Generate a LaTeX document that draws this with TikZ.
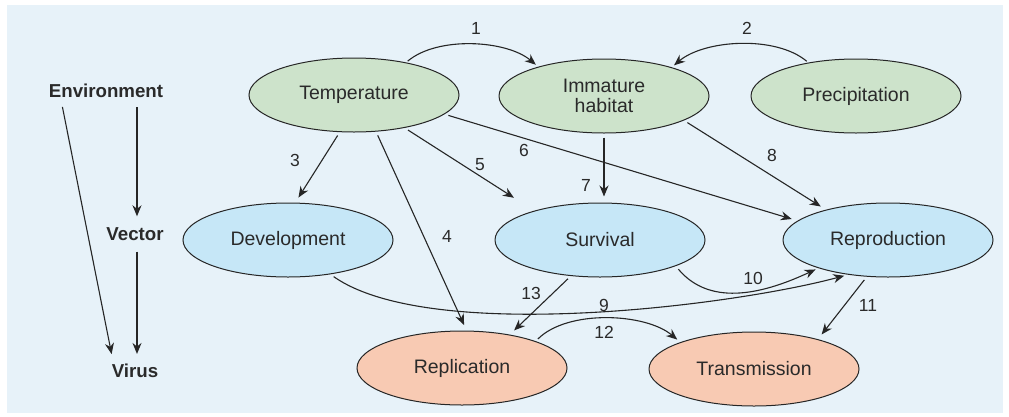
\documentclass[tikz,border=0pt]{standalone}
\usepackage{fontspec}
\setmainfont{Liberation Sans}
\usetikzlibrary{shapes.geometric,arrows.meta,calc}
\definecolor{bgc}{HTML}{E7F2F9}
\definecolor{greenc}{HTML}{CDE3CB}
\definecolor{bluec}{HTML}{C6E7F7}
\definecolor{salc}{HTML}{F8CAB3}
\definecolor{linec}{HTML}{262626}
\definecolor{textc}{HTML}{2A2A2A}
\begin{document}
\begin{tikzpicture}[x=1pt,y=1pt,
  ell/.style={ellipse, draw=linec, line width=1pt, minimum width=210pt, minimum height=74pt, inner sep=0pt,
    font=\fontsize{19.5}{20}\selectfont, text=textc, align=center},
  lbl/.style={inner sep=0pt, font=\fontsize{18.7}{20}\selectfont\bfseries, text=textc},
  num/.style={inner sep=0pt, font=\fontsize{17.5}{20}\selectfont, text=textc},
  arr/.style={-{Stealth[length=11pt,width=9pt]}, line width=1.1pt, draw=linec, shorten >=6pt, shorten <=4pt},
  carr/.style={-{Stealth[length=11pt,width=9pt]}, line width=1.1pt, draw=linec, shorten >=3pt, shorten <=2pt}]
\useasboundingbox (0,0) rectangle (1009,-416);
\fill[bgc] (7,-5) rectangle (1003,-413);

% ellipses
\node[ell,fill=greenc] (temp) at (354,-95) {Temperature};
\node[ell,fill=greenc] (imm) at (604,-96) {Immature\\habitat};
\node[ell,fill=greenc] (prec) at (856,-96) {Precipitation};
\node[ell,fill=bluec] (dev) at (288,-240) {Development};
\node[ell,fill=bluec] (surv) at (600,-240) {Survival};
\node[ell,fill=bluec] (repr) at (888,-240) {Reproduction};
\node[ell,fill=salc] (repl) at (462,-368) {Replication};
\node[ell,fill=salc] (trans) at (754,-369) {Transmission};

% left labels
\node[lbl] (env) at (106,-91) {Environment};
\node[lbl] (vec) at (135,-234) {Vector};
\node[lbl] (vir) at (135,-371) {Virus};

\draw[arr, shorten <=9pt, shorten >=11pt] ($(vec.north |- env.south)+(2,0)$) -- ($(vec.north)+(2,0)$);
\draw[arr, shorten <=11pt, shorten >=10pt] ($(vec.south)+(2,0)$) -- ($(vir.north)+(2,0)$);
\draw[arr, shorten <=9pt, shorten >=10pt] ($(env.south west)+(12,0)$) -- ($(vir.north west)+(2,0)$);

% connectors
\draw[carr] (temp.32) to[out=40,in=140,looseness=0.8] (imm.156);
\draw[carr] (prec.145) to[out=140,in=40,looseness=0.8] (imm.23);
\draw[arr] (temp.249) -- (dev.79);
\draw[arr] (temp.301) -- (repl.83);
\draw[arr, shorten >=24pt] (temp.327) -- (surv.156);
\draw[arr] (temp.348) -- (repr.168);
\draw[arr] (imm.south) -- (imm.south |- surv.north);
\draw[arr] (imm.343.5) -- (repr.154);
\draw[carr, shorten <=4pt, shorten >=4pt] (dev.321) to[out=-35,in=195,looseness=0.6] (repr.221);
\draw[carr, shorten <=4pt] (surv.341) to[out=-50,in=205] (repr.202);
\draw[arr] (repr.240) -- (trans.25);
\draw[carr, shorten <=3pt, shorten >=4pt] (repl.20) to[out=45,in=140,looseness=0.8] (trans.160);
\draw[arr] (surv.231) -- (repl.35);

% numbers
\node[num] (n1) at (476,-28) {1};
\node[num] (n2) at (747,-28) {2};
\node[num] (n3) at (295,-160) {3};
\node[num] (n4) at (447,-236) {4};
\node[num] (n5) at (480,-165) {5};
\node[num] (n6) at (524,-150) {6};
\node[num] (n7) at (586,-185) {7};
\node[num] (n8) at (772,-155) {8};
\node[num] (n9) at (604,-305) {9};
\node[num] (n10) at (753,-278) {10};
\node[num] (n11) at (868,-305) {11};
\node[num] (n12) at (604,-332) {12};
\node[num] (n13) at (531,-293) {13};
\end{tikzpicture}
\end{document}
